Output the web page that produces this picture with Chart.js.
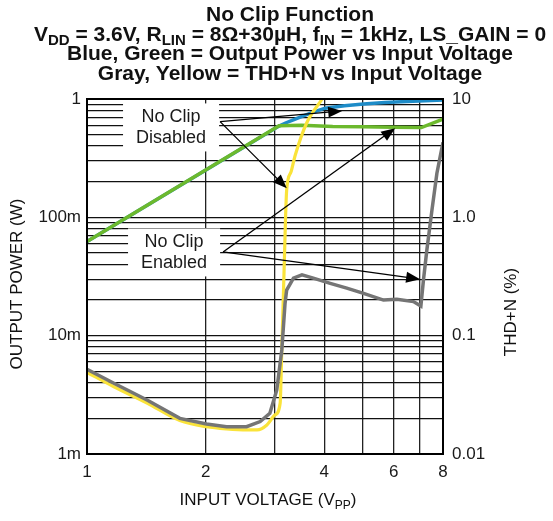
<!DOCTYPE html>
<html>
<head>
<meta charset="utf-8">
<script src="https://cdn.jsdelivr.net/npm/chart.js@4.4.1/dist/chart.umd.min.js"></script>
<style>
  html, body { margin: 0; padding: 0; background: #fff; }
</style>
</head>
<body>
<canvas id="chart" width="553" height="521"></canvas>
<script>
const family = "'Liberation Sans', Arial, Helvetica, sans-serif";

// output power (W), left axis
const blueVolts  = [1, 3.07, 3.2, 3.35, 3.5, 3.75, 4.02, 4.5, 5.03, 5.7, 6.48, 7.2, 8];
const bluePower  = [0.0624, 0.59, 0.63, 0.67, 0.71, 0.775, 0.836, 0.877, 0.908, 0.932, 0.951, 0.968, 0.983];
const greenVolts = [1, 3.07, 3.5, 4.2, 5, 6, 7.05, 8];
const greenPower = [0.0624, 0.595, 0.60, 0.585, 0.583, 0.578, 0.573, 0.675];

// THD+N (%), right axis
const yellowVolts = [1, 1.17, 1.42, 1.72, 2.01, 2.26, 2.55, 2.70, 2.86, 3.0, 3.09, 3.12, 3.16, 3.21, 3.29, 3.37, 3.61, 3.95];
const yellowThd   = [0.049, 0.037, 0.027, 0.0192, 0.0170, 0.0163, 0.0160, 0.0160, 0.0176, 0.0214, 0.0268, 0.076, 0.33, 1.7, 2.4, 3.3, 6.3, 10];
const grayVolts = [1, 1.17, 1.42, 1.72, 2.01, 2.26, 2.54, 2.75, 2.91, 3.03, 3.12, 3.18, 3.21, 3.34, 3.51, 3.75, 4.14, 4.56, 5.03, 5.65, 6.11, 6.73, 7.03, 7.14, 7.28, 7.5, 7.72, 8];
const grayThd   = [0.052, 0.0396, 0.0286, 0.0200, 0.0179, 0.0170, 0.0170, 0.0188, 0.0221, 0.0348, 0.0757, 0.188, 0.243, 0.306, 0.326, 0.306, 0.277, 0.252, 0.228, 0.200, 0.203, 0.194, 0.178, 0.30, 0.53, 1.15, 2.36, 4.3];

const xGrid = [1, 2, 3, 4, 5, 6, 7, 8];
const xTicks = [1, 2, 4, 6, 8];
const xTickLabels = ['1', '2', '4', '6', '8'];
const leftTicks = [0.001, 0.01, 0.1, 1];
const leftTickLabels = ['1m', '10m', '100m', '1'];
const rightTicks = [0.01, 0.1, 1, 10];
const rightTickLabels = ['0.01', '0.1', '1.0', '10'];

const titleLines = [
  [{ t: 'No Clip Function' }],
  [{ t: 'V' }, { t: 'DD', sub: true }, { t: ' = 3.6V, R' }, { t: 'LIN', sub: true },
   { t: ' = 8Ω+30µH, f' }, { t: 'IN', sub: true }, { t: ' = 1kHz, LS_GAIN = 0' }],
  [{ t: 'Blue, Green = Output Power vs Input Voltage' }],
  [{ t: 'Gray, Yellow = THD+N vs Input Voltage' }]
];
const xTitle = [{ t: 'INPUT VOLTAGE (V' }, { t: 'PP', sub: true }, { t: ')' }];
const leftTitle = 'OUTPUT POWER (W)';
const rightTitle = 'THD+N (%)';

// callouts, in (volts, watts) on the left axis
const notes = [
  { lines: ['No Clip', 'Disabled'], at: [1.634, 0.575], from: [2.176, 0.644],
    to: [[4.44, 0.793], [3.213, 0.176]] },
  { lines: ['No Clip', 'Enabled'], at: [1.663, 0.0505], from: [2.214, 0.051],
    to: [[6.05, 0.567], [7.0, 0.030]] }
];

function pts(xs, ys) {
  return xs.map((x, i) => ({ x: x, y: ys[i] }));
}

function near(a, b) {
  return Math.abs(Math.log10(a) - Math.log10(b)) < 1e-6;
}

function labelFor(value, ticks, labels) {
  const i = ticks.findIndex(t => near(t, value));
  return i < 0 ? '' : labels[i];
}

function logGrid(lo, hi) {
  const out = [];
  for (let e = Math.round(Math.log10(lo)); e < Math.round(Math.log10(hi)); e++) {
    for (let d = 1; d < 10; d++) out.push(d * Math.pow(10, e));
  }
  out.push(hi);
  return out;
}

function drawRich(c, parts, cx, base, size, weight) {
  const sub = Math.round(size * 0.72);
  let total = 0;
  parts.forEach(p => {
    c.font = `${weight} ${p.sub ? sub : size}px ${family}`;
    p.w = c.measureText(p.t).width;
    total += p.w;
  });
  let x = cx - total / 2;
  c.textAlign = 'left';
  c.textBaseline = 'alphabetic';
  parts.forEach(p => {
    c.font = `${weight} ${p.sub ? sub : size}px ${family}`;
    c.fillText(p.t, x, base + (p.sub ? size * 0.22 : 0));
    x += p.w;
  });
}

function arrow(c, x1, y1, x2, y2) {
  const a = Math.atan2(y2 - y1, x2 - x1);
  const len = 14, half = 5.5;
  c.beginPath();
  c.moveTo(x1, y1);
  c.lineTo(x2 - Math.cos(a) * len * 0.8, y2 - Math.sin(a) * len * 0.8);
  c.stroke();
  c.beginPath();
  c.moveTo(x2, y2);
  c.lineTo(x2 - len * Math.cos(a) + half * Math.sin(a), y2 - len * Math.sin(a) - half * Math.cos(a));
  c.lineTo(x2 - len * Math.cos(a) - half * Math.sin(a), y2 - len * Math.sin(a) + half * Math.cos(a));
  c.closePath();
  c.fill();
}

const decor = {
  id: 'decor',
  beforeDatasetsDraw(chart) {
    const c = chart.ctx, sx = chart.scales.x, sy = chart.scales.y;
    c.save();
    c.font = `18px ${family}`;
    notes.forEach(n => {
      const cx = sx.getPixelForValue(n.at[0]);
      const cy = sy.getPixelForValue(n.at[1]);
      const w = Math.max(...n.lines.map(l => c.measureText(l).width)) + 26;
      const h = 48;
      c.fillStyle = '#fff';
      c.fillRect(cx - w / 2, cy - h / 2, w, h);
      c.fillStyle = '#1a1a1a';
      c.textAlign = 'center';
      c.textBaseline = 'middle';
      c.fillText(n.lines[0], cx, cy - 10.8);
      c.fillText(n.lines[1], cx, cy + 10.8);
    });
    c.restore();
  },
  afterDatasetsDraw(chart) {
    const c = chart.ctx, sx = chart.scales.x, sy = chart.scales.y, a = chart.chartArea;
    c.save();
    c.strokeStyle = '#000';
    c.fillStyle = '#000';
    c.lineWidth = 1.3;
    notes.forEach(n => {
      const x1 = sx.getPixelForValue(n.from[0]), y1 = sy.getPixelForValue(n.from[1]);
      n.to.forEach(t => arrow(c, x1, y1, sx.getPixelForValue(t[0]), sy.getPixelForValue(t[1])));
    });
    c.lineWidth = 2;
    c.strokeRect(a.left, a.top, a.right - a.left, a.bottom - a.top);
    c.restore();
  },
  afterDraw(chart) {
    const c = chart.ctx, a = chart.chartArea;
    c.save();
    c.fillStyle = '#111';
    titleLines.forEach((line, i) => drawRich(c, line, 290, 21 + i * 19.6, 21, 'bold'));
    drawRich(c, xTitle, (a.left + a.right) / 2 + 3, 505, 17, 'normal');
    c.font = `17px ${family}`;
    c.textAlign = 'center';
    c.textBaseline = 'middle';
    c.translate(17, 284);
    c.rotate(-Math.PI / 2);
    c.fillText(leftTitle, 0, 0);
    c.rotate(Math.PI / 2);
    c.translate(494, 28);
    c.rotate(-Math.PI / 2);
    c.fillText(rightTitle, 0, 0);
    c.restore();
  }
};

Chart.defaults.font.family = family;
Chart.defaults.font.size = 17;
Chart.defaults.color = '#1a1a1a';

const ctx = document.getElementById('chart').getContext('2d');
new Chart(ctx, {
  type: 'line',
  data: {
    datasets: [
      { data: pts(grayVolts, grayThd), yAxisID: 'y2', borderColor: '#757575', borderWidth: 3.5, order: 0 },
      { data: pts(yellowVolts, yellowThd), yAxisID: 'y2', borderColor: '#fae33a', borderWidth: 3.2, cubicInterpolationMode: 'monotone', order: 1 },
      { data: pts(greenVolts, greenPower), yAxisID: 'y', borderColor: '#6cb92d', borderWidth: 3.5, order: 2 },
      { data: pts(blueVolts, bluePower), yAxisID: 'y', borderColor: '#1e8cc8', borderWidth: 3.5, order: 3 }
    ]
  },
  options: {
    responsive: false,
    animation: false,
    devicePixelRatio: 1,
    events: [],
    layout: { padding: { top: 99, left: 0, right: 0, bottom: 0 } },
    elements: { point: { radius: 0 }, line: { tension: 0 } },
    plugins: { legend: { display: false }, tooltip: { enabled: false } },
    scales: {
      x: {
        type: 'logarithmic',
        position: 'bottom',
        min: 1,
        max: 8,
        afterBuildTicks: s => { s.ticks = xGrid.map(v => ({ value: v })); },
        afterFit: s => { s.height = 67; },
        border: { display: false },
        grid: { color: '#222', lineWidth: 1.3, drawTicks: false },
        ticks: {
          autoSkip: false, maxRotation: 0, padding: 8,
          callback: v => labelFor(v, xTicks, xTickLabels)
        }
      },
      y: {
        type: 'logarithmic',
        position: 'left',
        min: 0.001,
        max: 1,
        afterBuildTicks: s => { s.ticks = logGrid(0.001, 1).map(v => ({ value: v })); },
        afterFit: s => { s.width = 87; },
        border: { display: false },
        grid: { color: '#111', lineWidth: 1.3, drawTicks: false },
        ticks: {
          autoSkip: false, padding: 6,
          callback: v => labelFor(v, leftTicks, leftTickLabels)
        }
      },
      y2: {
        type: 'logarithmic',
        position: 'right',
        min: 0.01,
        max: 10,
        afterBuildTicks: s => { s.ticks = rightTicks.map(v => ({ value: v })); },
        afterFit: s => { s.width = 110; },
        border: { display: false },
        grid: { display: false, drawTicks: false },
        ticks: {
          autoSkip: false, padding: 9,
          callback: v => labelFor(v, rightTicks, rightTickLabels)
        }
      }
    }
  },
  plugins: [decor]
});
</script>
</body>
</html>
